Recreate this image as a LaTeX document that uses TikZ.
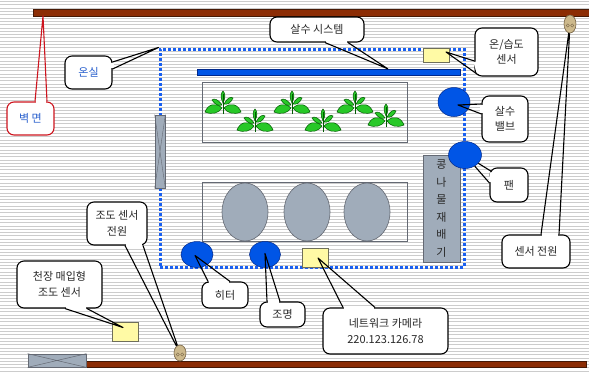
\documentclass[tikz,border=0pt]{standalone}
\usepackage{fontspec}
\setmainfont{Noto Sans CJK KR}
\usetikzlibrary{calc,shapes.geometric}

\definecolor{wallbrown}{RGB}{140,45,5}
\definecolor{wallline}{RGB}{70,25,5}
\definecolor{ghblue}{RGB}{25,95,240}
\definecolor{potgray}{RGB}{160,172,186}
\definecolor{potline}{RGB}{100,105,115}
\definecolor{devblue}{RGB}{0,85,230}
\definecolor{devline}{RGB}{0,40,140}
\definecolor{sensyellow}{RGB}{255,250,165}
\definecolor{sensline}{RGB}{110,110,90}
\definecolor{leaf}{RGB}{40,200,40}
\definecolor{leafline}{RGB}{0,90,0}
\definecolor{plug}{RGB}{205,185,140}
\definecolor{plugline}{RGB}{120,100,70}
\definecolor{txt}{RGB}{40,40,40}
\definecolor{lblblue}{RGB}{40,95,205}
\definecolor{stripe}{RGB}{204,204,204}
\definecolor{redline}{RGB}{205,20,30}

% pointer of a callout: erase the box edge between the two base points,
% then draw the two sides of the wedge to the target
\newcommand\calloutptr[4][black]{%
  \draw[white, line width=2.4pt, shorten <=1pt, shorten >=1pt] (#2) -- (#3);
  \draw[#1, line width=1.1pt, line join=round] (#2) -- (#4) -- (#3);
}

\tikzset{
  callout/.style={draw=black, line width=1.1pt, fill=white, rounded corners=7pt,
    align=center, text=txt, inner sep=0pt},
  wall/.style={fill=wallbrown, draw=wallline, line width=0.6pt, inner sep=0pt},
  windowbox/.style={fill=potgray, draw=potline, line width=0.7pt, inner sep=0pt},
  devcircle/.style={ellipse, fill=devblue, draw=devline, line width=0.5pt, inner sep=0pt},
  sensorbox/.style={fill=sensyellow, draw=sensline, line width=0.5pt, inner sep=0pt},
  pot/.style={ellipse, fill=potgray, draw=potline, line width=0.6pt, inner sep=0pt,
    minimum width=46pt, minimum height=58pt},
  bench/.style={draw=potline, line width=0.8pt, inner sep=0pt},
  outlet/.style={ellipse, fill=plug, draw=plugline, line width=0.6pt, inner sep=0pt},
  plant/.pic={
    \begin{scope}[leafline, fill=leaf, line width=0.5pt]
      \filldraw (-1,4) .. controls (-7,-2) and (-15,0) .. (-18,8)
                 .. controls (-11,11) and (-4,9) .. (-1,4);
      \filldraw (1,4) .. controls (7,-2) and (15,0) .. (18,8)
                 .. controls (11,11) and (4,9) .. (1,4);
      \filldraw (-1,1) .. controls (-5,-5) and (-9,-6) .. (-11,-4)
                 .. controls (-8,1) and (-4,2) .. (-1,1);
      \filldraw (1,0) .. controls (4,-6) and (8,-8) .. (10,-6)
                 .. controls (8,-1) and (4,1) .. (1,0);
      \filldraw (0,-1) .. controls (-3,-7) and (-2,-11) .. (0,-13)
                 .. controls (2,-11) and (3,-7) .. (0,-1);
    \end{scope}
    \draw[leafline, line width=0.8pt] (0,10) -- (0,-10);
  }
}

\begin{document}
\begin{tikzpicture}[x=1pt, y=-1pt, font=\fontsize{11}{15.5}\selectfont]
\useasboundingbox (0,0) rectangle (589,373);

% ruled background
\fill[white] (0,0) rectangle (589,373);
\foreach \i in {0,...,112}
  \draw[stripe, line width=1pt] (0,{1.6+3.3*\i}) -- (589,{1.6+3.3*\i});

% walls
\node[wall, minimum width=556pt, minimum height=7pt] (topwall) at (311,12.5) {};
\node[wall, minimum width=500pt, minimum height=6pt] (botwall) at (336,364) {};
\coordinate (wallpt) at (43,16);

% bottom-left window
\node[windowbox, minimum width=58pt, minimum height=13pt] (win2) at (57,360.5) {};
\draw[potline, line width=0.5pt] (win2.north west) -- (win2.south east)
  (win2.south west) -- (win2.north east);

% greenhouse outline
\node[draw=ghblue, line width=3pt, dash pattern=on 3pt off 2pt, inner sep=0pt,
  minimum width=304pt, minimum height=218pt] (gh) at (312,158) {};

% greenhouse side window
\node[windowbox, minimum width=10pt, minimum height=73pt] (win1) at (160,151.5) {};
\draw[potline, line width=0.4pt] (win1.north west) -- (win1.south east)
  (win1.south west) -- (win1.north east);

% sprinkler pipe
\node[fill=devblue, draw=devline, line width=0.4pt, inner sep=0pt,
  minimum width=263pt, minimum height=6pt] (pipe) at (328.5,72) {};

% plant bench
\node[bench, minimum width=205pt, minimum height=60pt] (bench1) at (304.5,112) {};
\foreach \px/\py in {223/104, 255/122, 292/104, 323/122, 355/104, 386/117}
  \pic at (\px,\py) {plant};

% pot bench
\node[bench, minimum width=205pt, minimum height=59pt] (bench2) at (304.5,212) {};
\node[pot] (pot1) at (245,212) {};
\node[pot] (pot2) at (307,212) {};
\node[pot] (pot3) at (367,212) {};

% bean sprout grower
\node[windowbox, minimum width=37pt, minimum height=107pt, align=center, text=txt,
  font=\fontsize{11}{17.5}\selectfont] (grower) at (441.5,208.5)
  {콩\\나\\물\\재\\배\\기};

% devices
\node[devcircle, minimum width=32pt, minimum height=29pt] (valve) at (454,102) {};
\node[devcircle, minimum width=33pt, minimum height=27pt] (fan) at (465,155) {};
\node[devcircle, minimum width=32pt, minimum height=26pt] (heater) at (197,254.5) {};
\node[devcircle, minimum width=31pt, minimum height=26pt] (lamp) at (265,254.5) {};

% sensors
\node[sensorbox, minimum width=26pt, minimum height=14pt] (thsens) at (436,55) {};
\node[sensorbox, minimum width=26pt, minimum height=19pt] (camera) at (315,257.5) {};
\node[sensorbox, minimum width=26pt, minimum height=19pt] (ceilsens) at (125,331.5) {};

% outlets
\node[outlet, minimum width=12pt, minimum height=18pt] (outlet1) at (570,24) {};
\node[outlet, minimum width=12pt, minimum height=16pt] (outlet2) at (180,353) {};
\foreach \o in {outlet1, outlet2} {
  \draw[plugline, line width=0.4pt] ($(\o)+(-2.2,1.5)$) circle (1.6pt)
    ($(\o)+(2.2,1.5)$) circle (1.6pt);
}

% callout boxes
\node[callout, draw=redline, text=lblblue, minimum width=47pt, minimum height=33pt]
  (bm) at (30.5,118.5) {벽 면};
\node[callout, text=lblblue, minimum width=47pt, minimum height=33pt]
  (onsil) at (88.5,72.5) {온실};
\node[callout, minimum width=94pt, minimum height=25pt]
  (sprlbl) at (317,29.5) {살수 시스템};
\node[callout, minimum width=63pt, minimum height=48pt]
  (thlbl) at (506.5,52) {온/습도\\센서};
\node[callout, minimum width=46pt, minimum height=46pt]
  (valvelbl) at (505,119) {살수\\밸브};
\node[callout, minimum width=38pt, minimum height=34pt]
  (fanlbl) at (509,185) {팬};
\node[callout, minimum width=68pt, minimum height=33pt]
  (spwrlbl) at (536,251.5) {센서 전원};
\node[callout, minimum width=60pt, minimum height=43pt]
  (lpwrlbl) at (117,223.5) {조도 센서\\전원};
\node[callout, minimum width=85pt, minimum height=47pt]
  (ceillbl) at (59.5,284.5) {천장 매입형\\조도 센서};
\node[callout, minimum width=46pt, minimum height=26pt]
  (heaterlbl) at (225,295) {히터};
\node[callout, minimum width=45pt, minimum height=25pt]
  (lamplbl) at (282.5,314.5) {조명};
\node[callout, minimum width=125pt, minimum height=46pt]
  (camlbl) at (385.5,331) {네트워크 카메라\\220.123.126.78};

% callout pointers
\calloutptr[redline]{$(bm.north)+(4.5,0)$}{$(bm.north)+(16.5,0)$}{wallpt}
\calloutptr{$(onsil.east)+(0,-10.5)$}{$(onsil.east)+(0,-3.5)$}{gh.north west}
\calloutptr{$(sprlbl.south)+(8,0)$}{$(sprlbl.south)+(31,0)$}{$(pipe.north west)+(191,0)$}
\calloutptr{$(thlbl.west)+(0,9)$}{$(thlbl.south west)+(4,-1.5)$}{$(thsens)+(10,-3)$}
\calloutptr{$(valvelbl.west)+(0,-15)$}{$(valvelbl.west)+(0,-5)$}{$(valve)+(4,3)$}
\calloutptr{$(fanlbl.north west)+(2,4)$}{$(fanlbl.west)+(0,-2)$}{fan}
\calloutptr{$(spwrlbl.north)+(5,0)$}{$(spwrlbl.north)+(23,0)$}{outlet1}
\calloutptr{$(lpwrlbl.south)+(8,0)$}{$(lpwrlbl.south)+(26,0)$}{outlet2}
\calloutptr{$(ceillbl.south)+(5.5,0)$}{$(ceillbl.south)+(27.5,0)$}{$(ceilsens)+(-2,-4)$}
\calloutptr{$(heaterlbl.north)+(-17,0)$}{$(heaterlbl.north)+(5,0)$}{$(heater)+(-2,1)$}
\calloutptr{$(lamplbl.north)+(-15.5,0)$}{$(lamplbl.north)+(-2.5,0)$}{$(lamp)+(0,-1)$}
\calloutptr{$(camlbl.north)+(-42.5,0)$}{$(camlbl.north)+(-10.5,0)$}{$(camera)+(3,0.5)$}

\end{tikzpicture}
\end{document}
